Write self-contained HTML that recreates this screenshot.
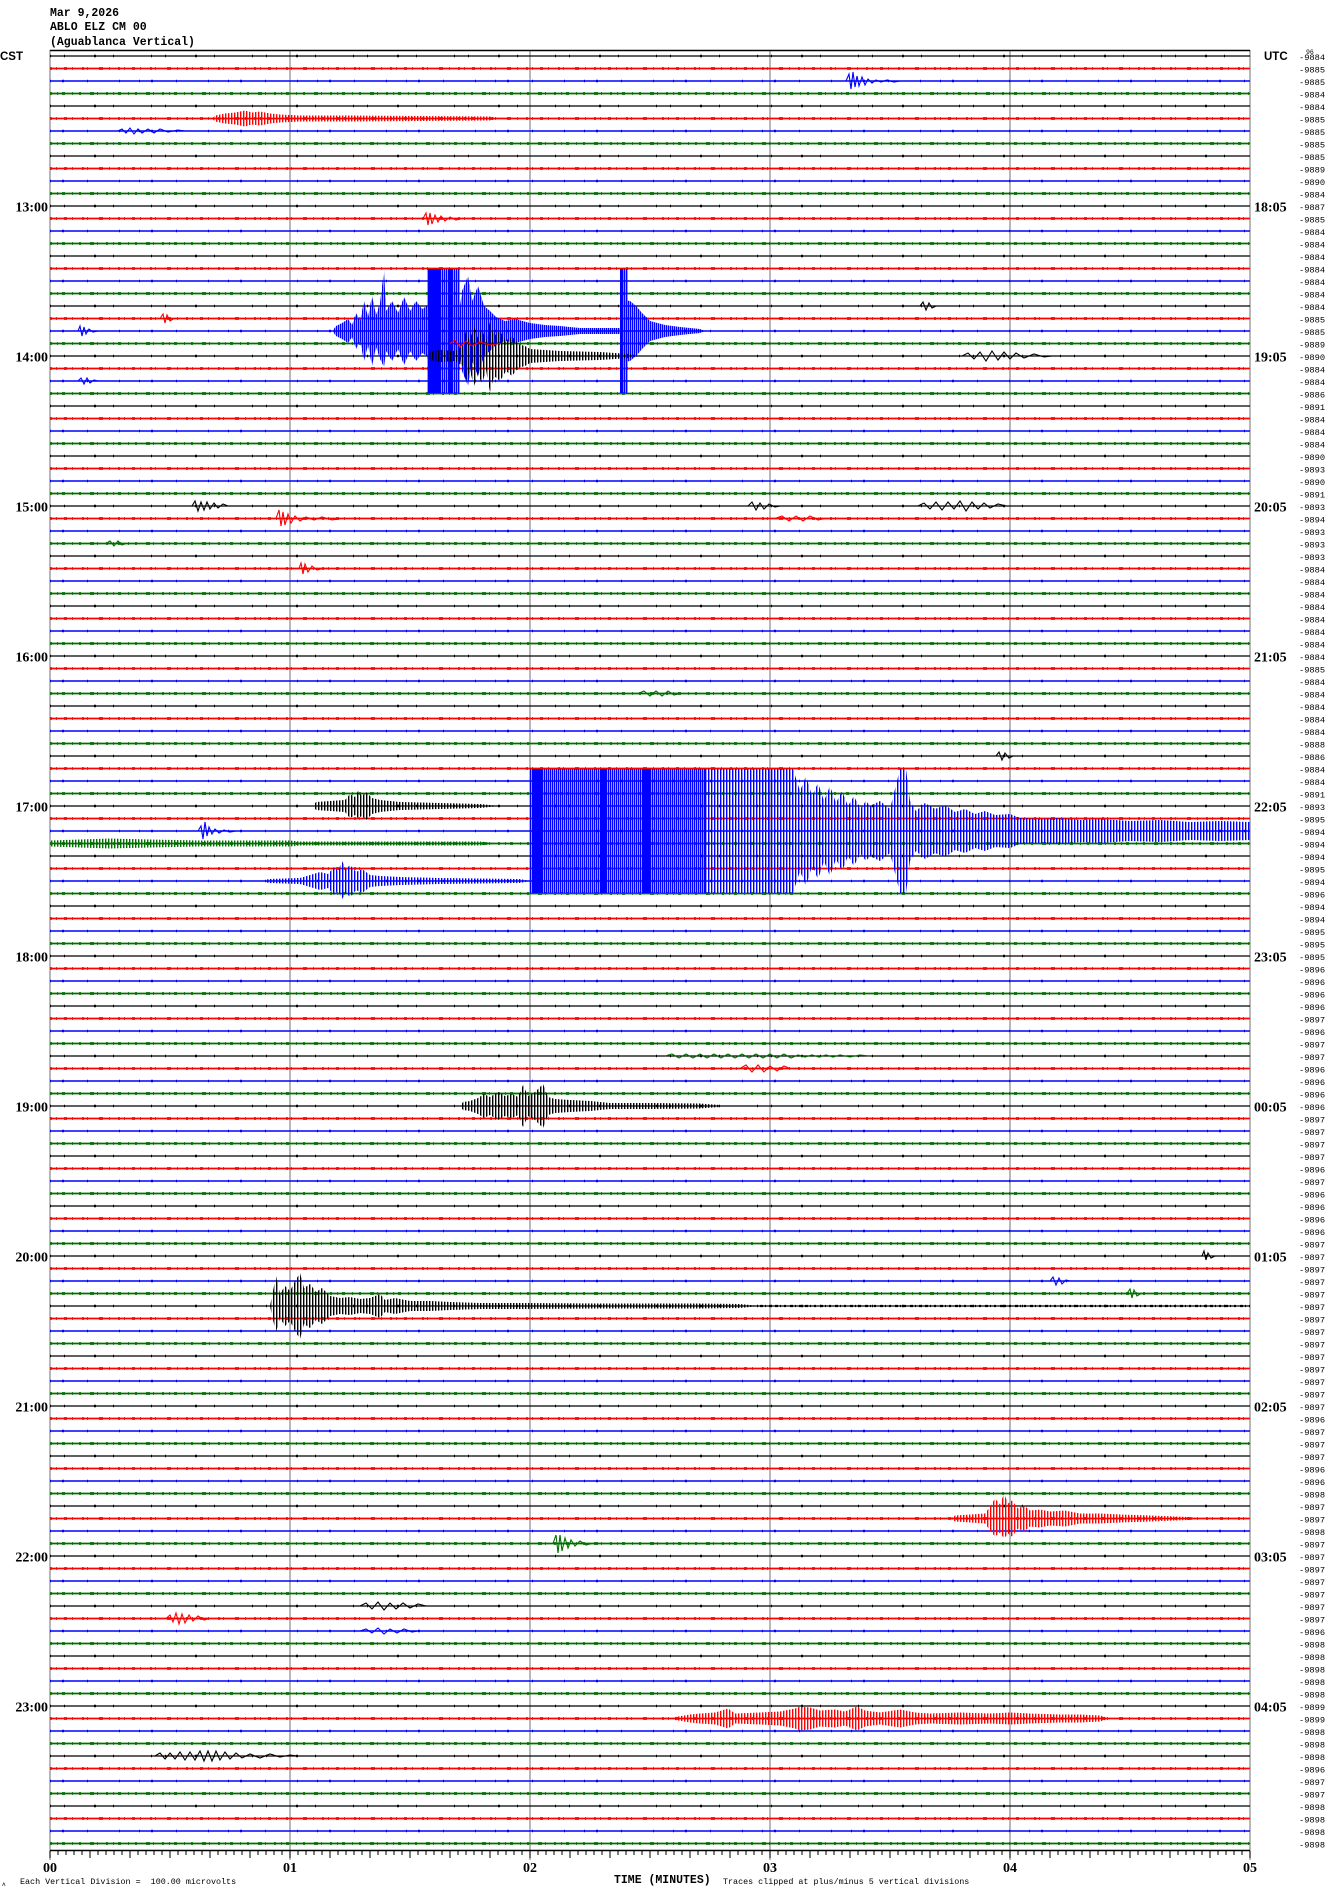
<!DOCTYPE html>
<html><head><meta charset="utf-8"><style>
html,body{margin:0;padding:0;background:#fff;}
svg{display:block;}
.t{font-family:"Liberation Mono",monospace;font-weight:bold;fill:#000;}
.h{font-family:"Liberation Serif",serif;font-weight:bold;font-size:14px;fill:#000;}
.r{font-family:"Liberation Mono",monospace;font-size:8.7px;fill:#000;}
</style></head><body>
<svg width="1330" height="1894" viewBox="0 0 1330 1894" xmlns="http://www.w3.org/2000/svg">
<defs>
<pattern id="sk" width="3" height="8" patternUnits="userSpaceOnUse"><rect width="1.4" height="8" fill="#000"/></pattern>
<pattern id="sr" width="3" height="8" patternUnits="userSpaceOnUse"><rect width="1.4" height="8" fill="#f00"/></pattern>
<pattern id="sb" width="3" height="8" patternUnits="userSpaceOnUse"><rect width="1.4" height="8" fill="#00f"/></pattern>
<pattern id="sg" width="3" height="8" patternUnits="userSpaceOnUse"><rect width="1.4" height="8" fill="#006f00"/></pattern>
<pattern id="sbd" width="2" height="8" patternUnits="userSpaceOnUse"><rect width="1.4" height="8" fill="#00f"/></pattern>
<path id="pk" d="M50 56H1250M50 106H1250M50 156H1250M50 206H1250M50 256H1250M50 306H1250M50 356H1250M50 406H1250M50 456H1250M50 506H1250M50 556H1250M50 606H1250M50 656H1250M50 706H1250M50 756H1250M50 806H1250M50 856H1250M50 906H1250M50 956H1250M50 1006H1250M50 1056H1250M50 1106H1250M50 1156H1250M50 1206H1250M50 1256H1250M50 1306H1250M50 1356H1250M50 1406H1250M50 1456H1250M50 1506H1250M50 1556H1250M50 1606H1250M50 1656H1250M50 1706H1250M50 1756H1250M50 1806H1250"/>
<path id="pr" d="M50 68.5H1250M50 118.5H1250M50 168.5H1250M50 218.5H1250M50 268.5H1250M50 318.5H1250M50 368.5H1250M50 418.5H1250M50 468.5H1250M50 518.5H1250M50 568.5H1250M50 618.5H1250M50 668.5H1250M50 718.5H1250M50 768.5H1250M50 818.5H1250M50 868.5H1250M50 918.5H1250M50 968.5H1250M50 1018.5H1250M50 1068.5H1250M50 1118.5H1250M50 1168.5H1250M50 1218.5H1250M50 1268.5H1250M50 1318.5H1250M50 1368.5H1250M50 1418.5H1250M50 1468.5H1250M50 1518.5H1250M50 1568.5H1250M50 1618.5H1250M50 1668.5H1250M50 1718.5H1250M50 1768.5H1250M50 1818.5H1250"/>
<path id="pb" d="M50 81H1250M50 131H1250M50 181H1250M50 231H1250M50 281H1250M50 331H1250M50 381H1250M50 431H1250M50 481H1250M50 531H1250M50 581H1250M50 631H1250M50 681H1250M50 731H1250M50 781H1250M50 831H1250M50 881H1250M50 931H1250M50 981H1250M50 1031H1250M50 1081H1250M50 1131H1250M50 1181H1250M50 1231H1250M50 1281H1250M50 1331H1250M50 1381H1250M50 1431H1250M50 1481H1250M50 1531H1250M50 1581H1250M50 1631H1250M50 1681H1250M50 1731H1250M50 1781H1250M50 1831H1250"/>
<path id="pg" d="M50 93.5H1250M50 143.5H1250M50 193.5H1250M50 243.5H1250M50 293.5H1250M50 343.5H1250M50 393.5H1250M50 443.5H1250M50 493.5H1250M50 543.5H1250M50 593.5H1250M50 643.5H1250M50 693.5H1250M50 743.5H1250M50 793.5H1250M50 843.5H1250M50 893.5H1250M50 943.5H1250M50 993.5H1250M50 1043.5H1250M50 1093.5H1250M50 1143.5H1250M50 1193.5H1250M50 1243.5H1250M50 1293.5H1250M50 1343.5H1250M50 1393.5H1250M50 1443.5H1250M50 1493.5H1250M50 1543.5H1250M50 1593.5H1250M50 1643.5H1250M50 1693.5H1250M50 1743.5H1250M50 1793.5H1250M50 1843.5H1250"/>
</defs>
<rect width="1330" height="1894" fill="#fff"/>

<text class="t" x="50" y="16" font-size="11.5">Mar 9,2026</text>
<text class="t" x="50" y="30" font-size="11.5">ABLO ELZ CM 00</text>
<text class="t" x="50" y="45" font-size="11.5">(Aguablanca Vertical)</text>
<text x="0" y="60" font-family="Liberation Sans, sans-serif" font-weight="bold" font-size="11.5" fill="#000">CST</text>
<text x="1264" y="60" font-family="Liberation Sans, sans-serif" font-weight="bold" font-size="11.5" fill="#000">UTC</text>
<text x="1306" y="54" font-family="Liberation Mono, monospace" font-size="6.5" fill="#000">96</text>

<g stroke="#888" stroke-width="1.2">
<line x1="50" y1="50" x2="50" y2="1860"/>
<line x1="290" y1="50" x2="290" y2="1860"/>
<line x1="530" y1="50" x2="530" y2="1860"/>
<line x1="770" y1="50" x2="770" y2="1860"/>
<line x1="1010" y1="50" x2="1010" y2="1860"/>
<line x1="1250" y1="50" x2="1250" y2="1860"/>
</g>
<line x1="50" y1="50.5" x2="1250" y2="50.5" stroke="#000" stroke-width="1.5"/>

<g fill="none">
<use href="#pk" stroke="#000" stroke-width="1.2"/>
<use href="#pr" stroke="#f00" stroke-width="1.7"/>
<use href="#pb" stroke="#00f" stroke-width="1.4"/>
<use href="#pg" stroke="#006f00" stroke-width="1.7"/>
<use href="#pk" stroke="#000" stroke-width="2.6" stroke-dasharray="1 13 1 29 2 17 1 37"/>
<use href="#pr" stroke="#f00" stroke-width="2.8" stroke-dasharray="2 4 1 7 3 5 1 9 2 3 1 11 4 6 1 8"/>
<use href="#pb" stroke="#00f" stroke-width="2.6" stroke-dasharray="1 11 2 23 1 31 1 19"/>
<use href="#pg" stroke="#006f00" stroke-width="2.8" stroke-dasharray="2 5 1 4 3 7 1 6 2 9 4 3 1 8"/>
</g>

<polygon fill="url(#sr)" points="212,118.5 215,115.5 225,113.5 235,112.5 245,110.5 252,112.5 260,111.5 270,113.5 280,114.5 300,115.5 350,115.5 420,116 490,116.5 500,118.5 490,120.5 420,121 350,121.5 300,121.5 280,122.5 270,123.5 260,125.5 252,124.5 245,126.5 235,124.5 225,123.5 215,121.5"/>
<polygon fill="url(#sbd)" points="333,330 336,326 342,323 348,319 352,325 356,313 360,321 364,301 368,317 372,296 376,315 380,303 384,270 386,311 392,301 398,313 404,297 410,311 416,301 422,309 427,306 460,306 462,291 468,276 472,301 478,286 484,306 490,311 496,317 505,321 515,319 530,323 545,325 560,326 580,328 620,328 624,300 630,301 636,306 642,313 650,321 665,325 680,327 700,329 705,331 700,333 680,335 665,337 650,341 642,349 636,356 630,361 624,362 620,334 580,334 560,336 545,337 530,339 515,343 505,341 496,345 490,351 484,356 478,376 472,361 468,386 462,371 460,356 427,356 422,353 416,361 410,351 404,365 398,349 392,361 386,351 384,367 380,359 376,347 372,366 368,345 364,361 360,341 356,349 352,337 348,343 342,339 336,336 333,332"/>
<rect x="427" y="269" width="33" height="124" fill="url(#sbd)"/>
<rect x="428" y="269" width="12" height="124" fill="#00f"/>
<rect x="449" y="269" width="4" height="124" fill="#00f"/>
<rect x="620" y="269" width="8" height="124" fill="url(#sbd)"/>
<rect x="621" y="269" width="2.5" height="124" fill="#00f"/>
<polygon fill="url(#sk)" points="427,353 440,350 455,351 463,346 466,331 470,341 474,326 478,338 482,328 486,342 490,322 494,336 500,331 506,341 512,336 518,344 525,346 530,349 560,351 600,352 630,354 640,356 630,358 600,360 560,361 530,363 525,366 518,368 512,376 506,371 500,381 494,376 490,392 486,370 482,384 478,374 474,386 470,371 466,381 463,366 455,361 440,362 427,359"/>
<rect x="530" y="769" width="175" height="124" fill="url(#sbd)"/>
<rect x="532" y="769" width="10" height="124" fill="#00f"/>
<rect x="600" y="769" width="6" height="124" fill="#00f"/>
<rect x="642" y="769" width="8" height="124" fill="#00f"/>
<rect x="705" y="769" width="88" height="124" fill="url(#sb)"/>
<polygon fill="url(#sb)" points="793,769 800,791 806,776 812,796 818,783 824,801 830,786 836,803 842,791 848,806 854,796 860,809 866,801 870,806 880,801 890,809 900,769 906,769 910,801 916,811 925,803 935,809 945,805 955,812 965,809 975,814 985,811 995,815 1010,814 1020,818 1040,819 1060,818 1080,820 1100,819 1130,821 1160,820 1190,822 1220,821 1250,822 1250,840 1220,841 1190,840 1160,842 1130,841 1100,843 1080,842 1060,844 1040,843 1020,844 1010,848 995,847 985,851 975,848 965,853 955,850 945,857 935,853 925,859 916,851 910,861 906,893 900,893 890,853 880,861 870,856 866,861 860,853 854,866 848,856 842,871 836,859 830,876 824,861 818,879 812,866 806,886 800,871 793,893"/>
<polygon fill="url(#sk)" points="313,806 316,802 330,801 345,800 350,794 355,797 358,791 362,796 366,792 372,798 380,800 400,802 440,803 480,804 500,806 480,808 440,809 400,810 380,812 372,814 366,820 362,816 358,818 355,815 350,818 345,812 330,811 316,810"/>
<polygon fill="url(#sg)" points="50,840.5 80,839.5 110,838.5 150,839.5 200,840.5 290,840.5 300,841.5 480,841.5 500,843.5 480,845.5 300,845.5 290,846.5 200,846.5 150,847.5 110,848.5 80,847.5 50,846.5"/>
<polygon fill="url(#sb)" points="265,881 268,879 300,878 310,875 320,872 328,874 334,867 338,871 342,861 346,869 350,865 356,872 362,869 370,875 380,876 400,877 440,878 520,879 530,881 520,883 440,884 400,885 380,886 370,887 362,893 356,890 350,897 346,893 342,899 338,891 334,895 328,888 320,890 310,887 300,884 268,883"/>
<polygon fill="url(#sk)" points="460,1106 463,1102 470,1101 478,1098 484,1094 490,1097 498,1092 505,1096 512,1094 518,1097 523,1085 528,1096 535,1092 543,1084 548,1097 555,1099 570,1100 590,1101 610,1103 650,1103 700,1103.5 720,1105 720,1107 700,1108.5 650,1109 610,1109 590,1111 570,1112 555,1113 548,1115 543,1128 535,1120 528,1116 523,1127 518,1115 512,1118 505,1116 498,1120 490,1115 484,1118 478,1114 470,1111 463,1110"/>
<polygon fill="url(#sk)" points="270,1306 272,1296 276,1276 280,1294 285,1286 290,1291 295,1281 300,1273 304,1288 310,1284 316,1292 322,1288 330,1296 340,1298 350,1297 360,1299 370,1298 380,1294 385,1300 395,1298 410,1301 430,1301 450,1302 480,1303 520,1303 600,1303.5 700,1303.5 740,1304 760,1306 740,1308 700,1308.5 600,1308.5 520,1309 480,1309 450,1310 430,1311 410,1311 395,1314 385,1312 380,1318 370,1314 360,1313 350,1315 340,1314 330,1316 322,1324 316,1320 310,1328 304,1324 300,1339 295,1331 290,1321 285,1326 280,1318 276,1332 272,1316"/>
<line x1="760" y1="1306" x2="1250" y2="1306" stroke="#000" stroke-width="2.2" stroke-dasharray="3 2 1 3 2 4"/>
<polygon fill="url(#sr)" points="950,1518.5 955,1515.5 970,1514.5 985,1513.5 990,1506.5 995,1498.5 1000,1504.5 1004,1493.5 1008,1503.5 1012,1500.5 1018,1508.5 1024,1505.5 1030,1510.5 1040,1509.5 1050,1511.5 1065,1510.5 1080,1513.5 1100,1513.5 1120,1514.5 1150,1515.5 1175,1516.5 1190,1517 1200,1518.5 1190,1520 1175,1520.5 1150,1521.5 1120,1522.5 1100,1523.5 1080,1523.5 1065,1526.5 1050,1525.5 1040,1527.5 1030,1526.5 1024,1531.5 1018,1528.5 1012,1536.5 1008,1533.5 1004,1538.5 1000,1532.5 995,1536.5 990,1530.5 985,1523.5 970,1522.5 955,1521.5"/>
<polygon fill="url(#sr)" points="670,1718.5 675,1717 690,1714.5 700,1713.5 715,1712.5 728,1708.5 735,1713.5 760,1712.5 780,1711.5 795,1708.5 800,1706.5 810,1707.5 820,1710.5 835,1709.5 845,1711.5 857,1706.5 865,1710.5 880,1712.5 900,1709.5 915,1712.5 930,1713.5 960,1712.5 990,1713.5 1010,1712.5 1030,1713.5 1060,1714.5 1080,1714.5 1100,1715.5 1110,1718.5 1100,1721.5 1080,1722.5 1060,1722.5 1030,1723.5 1010,1724.5 990,1723.5 960,1724.5 930,1723.5 915,1724.5 900,1727.5 880,1724.5 865,1726.5 857,1730.5 845,1725.5 835,1727.5 820,1726.5 810,1729.5 800,1730.5 795,1728.5 780,1725.5 760,1724.5 735,1723.5 728,1728.5 715,1724.5 700,1723.5 690,1722.5 675,1720"/>

<g fill="none" stroke-width="1.1" stroke-linejoin="miter">
<g stroke="#00f">
<path d="M846 81L849 74L851 89L853 72L855 87L857 76L859 86L862 77L865 85L868 79L872 83L876 80L881 82L887 80L894 82L900 81"/>
<path d="M198 831L201 826L203 839L205 822L207 836L209 827L212 834L215 829L219 833L224 830L230 832L236 831"/>
<path d="M78 331L80 326L82 336L84 327L86 334L89 329L93 332L98 331"/>
<path d="M78 381L81 378L84 384L87 378L90 383L94 380L98 381"/>
<path d="M118 131L122 129L126 133L130 128L134 134L138 129L142 133L148 129L154 133L160 129L168 132L178 130L185 131"/>
<path d="M360 1631L366 1629L372 1633L378 1628L384 1634L390 1629L397 1633L404 1629L412 1632L418 1631"/>
<path d="M1050 1281L1053 1277L1056 1285L1059 1278L1062 1284L1066 1280L1070 1281"/>
</g>
<g stroke="#f00">
<path d="M423 218.5L426 213L428 225L430 213L432 224L435 215L438 222L441 216L445 221L450 217L456 220L462 218.5"/>
<path d="M276 518.5L279 510L281 526L283 512L285 525L288 514L291 523L295 516L300 521L306 517L314 520L322 517L332 520L342 518.5"/>
<path d="M775 518.5L782 516L789 521L796 516L803 521L810 516L818 520L825 518.5"/>
<path d="M160 318.5L163 314L165 323L167 315L170 321L174 318.5"/>
<path d="M299 568.5L301 563L303 574L305 564L308 572L312 566L317 570L323 568.5"/>
<path d="M166 1618.5L170 1615L173 1622L176 1613L179 1624L182 1614L185 1623L189 1615L193 1621L198 1616L204 1620L210 1618.5"/>
<path d="M740 1068.5L746 1065L752 1072L758 1065L764 1072L770 1066L777 1071L784 1066L790 1068.5"/>
<path d="M450 343.5L455 340L460 347L466 341L472 346L480 342L490 345L500 343.5"/>
</g>
<g stroke="#000">
<path d="M192 506L195 501L198 511L201 502L204 510L207 502L210 509L214 503L218 508L223 504L228 506"/>
<path d="M748 506L752 502L756 510L760 503L764 509L769 504L775 507L780 506"/>
<path d="M918 506L924 503L930 509L936 502L942 510L948 502L954 509L960 501L966 511L972 502L978 509L984 503L990 508L998 504L1006 506"/>
<path d="M920 306L923 302L926 310L929 303L932 308L936 306"/>
<path d="M962 356L968 353L974 359L980 352L986 361L992 351L998 360L1004 352L1010 359L1016 353L1024 358L1034 354L1044 357L1052 356"/>
<path d="M155 1756L160 1753L165 1759L170 1753L175 1759L180 1752L185 1760L190 1752L195 1760L200 1751L204 1761L208 1751L212 1761L216 1751L220 1760L225 1752L230 1759L236 1753L242 1758L250 1754L260 1758L270 1754L280 1757L290 1755L298 1756"/>
<path d="M360 1606L366 1603L372 1609L378 1602L384 1610L390 1603L396 1609L403 1603L410 1608L418 1604L426 1606"/>
<path d="M1202 1256L1204 1251L1206 1260L1208 1253L1211 1258L1215 1256"/>
<path d="M996 756L999 752L1002 760L1005 753L1009 758L1013 756"/>
</g>
<g stroke="#006f00">
<path d="M553 1543.5L556 1535L558 1553L560 1535L562 1551L565 1538L568 1548L571 1540L575 1546L580 1541L586 1545L592 1543.5"/>
<path d="M665 1056L672 1054L679 1058L686 1054L693 1058L700 1054L707 1058L714 1054L721 1058L728 1054L735 1058L742 1054L749 1058L756 1054L763 1058L770 1054L777 1058L784 1054L791 1058L798 1055L805 1057L812 1055L819 1057L826 1055L833 1057L840 1055L850 1057L860 1055L870 1056"/>
<path d="M106 543.5L110 541L114 546L118 541L122 545L126 543.5"/>
<path d="M1127 1293.5L1130 1289L1132 1298L1134 1290L1137 1296L1141 1293.5"/>
<path d="M638 693.5L644 691L650 696L656 691L662 696L668 691L674 695L680 693.5"/>
</g>
</g>

<line x1="50" y1="1850.5" x2="1250" y2="1850.5" stroke="#000" stroke-width="1.5"/>
<line x1="49.5" y1="1853" x2="1251" y2="1853" stroke="#000" stroke-width="4" stroke-dasharray="1 7"/>
<line x1="49.5" y1="1854.5" x2="1251" y2="1854.5" stroke="#000" stroke-width="7" stroke-dasharray="1 39"/>
<g class="h" font-size="13" text-anchor="middle">
<text x="50" y="1872">00</text>
<text x="290" y="1872">01</text>
<text x="530" y="1872">02</text>
<text x="770" y="1872">03</text>
<text x="1010" y="1872">04</text>
<text x="1250" y="1872">05</text>
</g>
<text class="t" x="614" y="1883" font-size="11.5">TIME (MINUTES)</text>
<text x="20" y="1884" font-family="Liberation Mono, monospace" font-size="8.4" fill="#000" xml:space="preserve">Each Vertical Division =  100.00 microvolts</text>
<text x="723" y="1884" font-family="Liberation Mono, monospace" font-size="8.4" fill="#000">Traces clipped at plus/minus 5 vertical divisions</text>
<text x="2" y="1886" font-family="Liberation Mono, monospace" font-size="6" fill="#000">ʌ</text>

<g class="h" text-anchor="end">
<text x="48" y="211.5">13:00</text>
<text x="48" y="361.5">14:00</text>
<text x="48" y="511.5">15:00</text>
<text x="48" y="661.5">16:00</text>
<text x="48" y="811.5">17:00</text>
<text x="48" y="961.5">18:00</text>
<text x="48" y="1111.5">19:00</text>
<text x="48" y="1261.5">20:00</text>
<text x="48" y="1411.5">21:00</text>
<text x="48" y="1561.5">22:00</text>
<text x="48" y="1711.5">23:00</text>
</g>
<g class="h">
<text x="1254" y="211.5">18:05</text>
<text x="1254" y="361.5">19:05</text>
<text x="1254" y="511.5">20:05</text>
<text x="1254" y="661.5">21:05</text>
<text x="1254" y="811.5">22:05</text>
<text x="1254" y="961.5">23:05</text>
<text x="1254" y="1111.5">00:05</text>
<text x="1254" y="1261.5">01:05</text>
<text x="1254" y="1411.5">02:05</text>
<text x="1254" y="1561.5">03:05</text>
<text x="1254" y="1711.5">04:05</text>
</g>

<g class="r">
<text x="1299" y="60">-9884</text><text x="1299" y="72.5">-9885</text><text x="1299" y="85">-9885</text><text x="1299" y="97.5">-9884</text>
<text x="1299" y="110">-9884</text><text x="1299" y="122.5">-9885</text><text x="1299" y="135">-9885</text><text x="1299" y="147.5">-9885</text>
<text x="1299" y="160">-9885</text><text x="1299" y="172.5">-9889</text><text x="1299" y="185">-9890</text><text x="1299" y="197.5">-9884</text>
<text x="1299" y="210">-9887</text><text x="1299" y="222.5">-9885</text><text x="1299" y="235">-9884</text><text x="1299" y="247.5">-9884</text>
<text x="1299" y="260">-9884</text><text x="1299" y="272.5">-9884</text><text x="1299" y="285">-9884</text><text x="1299" y="297.5">-9884</text>
<text x="1299" y="310">-9884</text><text x="1299" y="322.5">-9885</text><text x="1299" y="335">-9885</text><text x="1299" y="347.5">-9889</text>
<text x="1299" y="360">-9890</text><text x="1299" y="372.5">-9884</text><text x="1299" y="385">-9884</text><text x="1299" y="397.5">-9886</text>
<text x="1299" y="410">-9891</text><text x="1299" y="422.5">-9884</text><text x="1299" y="435">-9884</text><text x="1299" y="447.5">-9884</text>
<text x="1299" y="460">-9890</text><text x="1299" y="472.5">-9893</text><text x="1299" y="485">-9890</text><text x="1299" y="497.5">-9891</text>
<text x="1299" y="510">-9893</text><text x="1299" y="522.5">-9894</text><text x="1299" y="535">-9893</text><text x="1299" y="547.5">-9893</text>
<text x="1299" y="560">-9893</text><text x="1299" y="572.5">-9884</text><text x="1299" y="585">-9884</text><text x="1299" y="597.5">-9884</text>
<text x="1299" y="610">-9884</text><text x="1299" y="622.5">-9884</text><text x="1299" y="635">-9884</text><text x="1299" y="647.5">-9884</text>
<text x="1299" y="660">-9884</text><text x="1299" y="672.5">-9885</text><text x="1299" y="685">-9884</text><text x="1299" y="697.5">-9884</text>
<text x="1299" y="710">-9884</text><text x="1299" y="722.5">-9884</text><text x="1299" y="735">-9884</text><text x="1299" y="747.5">-9888</text>
<text x="1299" y="760">-9886</text><text x="1299" y="772.5">-9884</text><text x="1299" y="785">-9884</text><text x="1299" y="797.5">-9891</text>
<text x="1299" y="810">-9893</text><text x="1299" y="822.5">-9895</text><text x="1299" y="835">-9894</text><text x="1299" y="847.5">-9894</text>
<text x="1299" y="860">-9894</text><text x="1299" y="872.5">-9895</text><text x="1299" y="885">-9894</text><text x="1299" y="897.5">-9896</text>
<text x="1299" y="910">-9894</text><text x="1299" y="922.5">-9894</text><text x="1299" y="935">-9895</text><text x="1299" y="947.5">-9895</text>
<text x="1299" y="960">-9895</text><text x="1299" y="972.5">-9896</text><text x="1299" y="985">-9896</text><text x="1299" y="997.5">-9896</text>
<text x="1299" y="1010">-9896</text><text x="1299" y="1022.5">-9897</text><text x="1299" y="1035">-9896</text><text x="1299" y="1047.5">-9897</text>
<text x="1299" y="1060">-9897</text><text x="1299" y="1072.5">-9896</text><text x="1299" y="1085">-9896</text><text x="1299" y="1097.5">-9896</text>
<text x="1299" y="1110">-9896</text><text x="1299" y="1122.5">-9897</text><text x="1299" y="1135">-9897</text><text x="1299" y="1147.5">-9897</text>
<text x="1299" y="1160">-9897</text><text x="1299" y="1172.5">-9896</text><text x="1299" y="1185">-9897</text><text x="1299" y="1197.5">-9896</text>
<text x="1299" y="1210">-9896</text><text x="1299" y="1222.5">-9896</text><text x="1299" y="1235">-9896</text><text x="1299" y="1247.5">-9897</text>
<text x="1299" y="1260">-9897</text><text x="1299" y="1272.5">-9897</text><text x="1299" y="1285">-9897</text><text x="1299" y="1297.5">-9897</text>
<text x="1299" y="1310">-9897</text><text x="1299" y="1322.5">-9897</text><text x="1299" y="1335">-9897</text><text x="1299" y="1347.5">-9897</text>
<text x="1299" y="1360">-9897</text><text x="1299" y="1372.5">-9897</text><text x="1299" y="1385">-9897</text><text x="1299" y="1397.5">-9897</text>
<text x="1299" y="1410">-9897</text><text x="1299" y="1422.5">-9896</text><text x="1299" y="1435">-9897</text><text x="1299" y="1447.5">-9897</text>
<text x="1299" y="1460">-9897</text><text x="1299" y="1472.5">-9896</text><text x="1299" y="1485">-9896</text><text x="1299" y="1497.5">-9898</text>
<text x="1299" y="1510">-9897</text><text x="1299" y="1522.5">-9897</text><text x="1299" y="1535">-9898</text><text x="1299" y="1547.5">-9897</text>
<text x="1299" y="1560">-9897</text><text x="1299" y="1572.5">-9897</text><text x="1299" y="1585">-9897</text><text x="1299" y="1597.5">-9897</text>
<text x="1299" y="1610">-9897</text><text x="1299" y="1622.5">-9897</text><text x="1299" y="1635">-9896</text><text x="1299" y="1647.5">-9898</text>
<text x="1299" y="1660">-9898</text><text x="1299" y="1672.5">-9898</text><text x="1299" y="1685">-9898</text><text x="1299" y="1697.5">-9898</text>
<text x="1299" y="1710">-9899</text><text x="1299" y="1722.5">-9899</text><text x="1299" y="1735">-9898</text><text x="1299" y="1747.5">-9898</text>
<text x="1299" y="1760">-9898</text><text x="1299" y="1772.5">-9896</text><text x="1299" y="1785">-9897</text><text x="1299" y="1797.5">-9897</text>
<text x="1299" y="1810">-9898</text><text x="1299" y="1822.5">-9898</text><text x="1299" y="1835">-9898</text><text x="1299" y="1847.5">-9898</text>
</g>
</svg>
</body></html>
